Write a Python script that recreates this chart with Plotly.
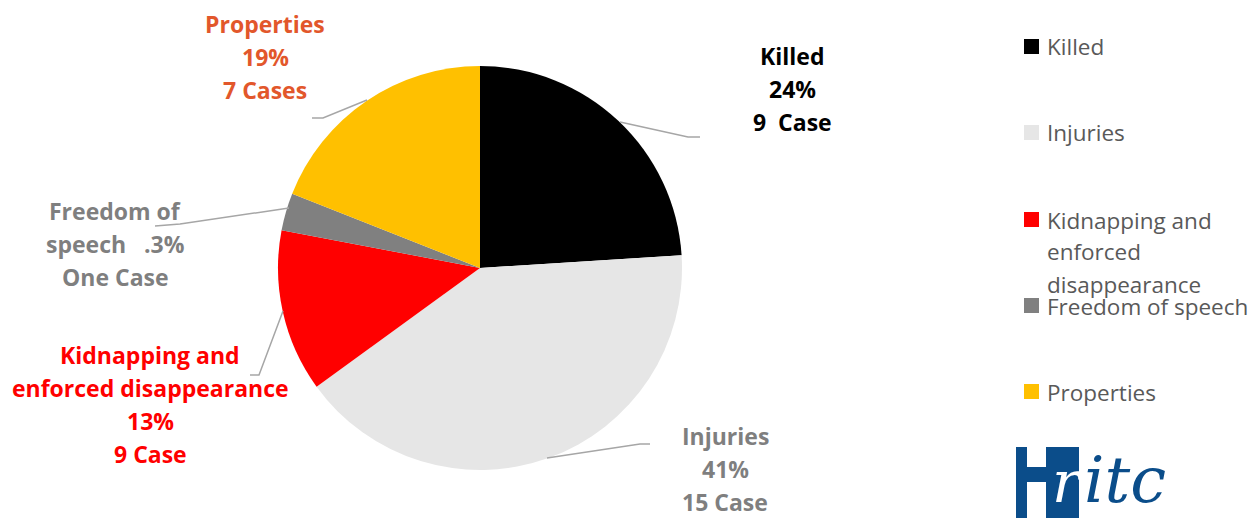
import plotly.graph_objects as go

categories = ["Killed", "Injuries", "Kidnapping and enforced disappearance", "Freedom of speech", "Properties"]
percent_values = [24, 41, 13, 3, 19]
slice_colors = ["#000000", "#E6E6E6", "#FF0000", "#808080", "#FFC000"]
label_lines = [
    ["Killed", "24%", "9  Case"],
    ["Injuries", "41%", "15 Case"],
    ["Kidnapping and", "enforced disappearance", "13%", "9 Case"],
    ["Freedom of", "speech   .3%", "One Case"],
    ["Properties", "19%", "7 Cases"],
]
label_colors = ["#000000", "#7F7F7F", "#FF0000", "#7F7F7F", "#E2572B"]
legend_lines = [["Killed"], ["Injuries"], ["Kidnapping and", "enforced", "disappearance"],
                ["Freedom of speech"], ["Properties"]]

W, H = 1256, 518
OFF = 8  # page body margin
def px(x): return (x - OFF) / W
def py(y): return 1 - (y - OFF) / H

# layout positions (pixels, in window coordinates)
label_pos = [(792, 56), (725, 436), (150, 355), (115, 211), (265, 24)]
label_step = 33
leaders = [
    [(620, 122), (688, 137), (700, 137)],
    [(547, 458), (640, 444), (650, 444)],
    [(283, 311), (259, 375), (250, 375)],
    [(289, 208), (180, 224), (155, 226)],
    [(367, 100), (323, 118), (312, 118)],
]
legend_y = [47, 133, 220, 306, 392]

fig = go.Figure()
fig.add_trace(go.Pie(
    labels=categories, values=percent_values, sort=False, direction="clockwise",
    rotation=0, marker=dict(colors=slice_colors, line=dict(color="white", width=0)),
    textinfo="none", hoverinfo="label+percent", showlegend=False,
    domain=dict(x=[px(278), px(682)], y=[py(470), py(66)]),
))

annotations = []
shapes = []
label_font = "'Open Sans', Lato, sans-serif"
for lines, (cx, cy), col in zip(label_lines, label_pos, label_colors):
    for i, t in enumerate(lines):
        annotations.append(dict(x=px(cx), y=py(cy + i * label_step), xref="paper", yref="paper",
                                text="<b>%s</b>" % t, showarrow=False, xanchor="center", yanchor="middle",
                                font=dict(family=label_font, size=23, color=col)))
for pts in leaders:
    path = "M %f %f" % (px(pts[0][0]), py(pts[0][1]))
    for (x, y) in pts[1:]:
        path += " L %f %f" % (px(x), py(y))
    shapes.append(dict(type="path", path=path, xref="paper", yref="paper",
                       line=dict(color="#A6A6A6", width=1.5)))

# manual legend
for lines, col, ly in zip(legend_lines, slice_colors, legend_y):
    shapes.append(dict(type="rect", xref="paper", yref="paper",
                       x0=px(1024), x1=px(1039), y0=py(ly + 7), y1=py(ly - 8),
                       fillcolor=col, line=dict(width=0)))
    for i, t in enumerate(lines):
        annotations.append(dict(x=px(1045), y=py(ly + i * 32), xref="paper", yref="paper",
                                text=t, showarrow=False, xanchor="left", yanchor="middle",
                                font=dict(family=label_font, size=22.5, color="#595959")))

# logo
blue = "#0B4D8A"
for (x0, y0, x1, y1) in [(1016, 447, 1027, 526), (1016, 467, 1050, 482), (1046, 447, 1079, 526)]:
    shapes.append(dict(type="rect", xref="paper", yref="paper", x0=px(x0), x1=px(x1),
                       y0=py(y1), y1=py(y0), fillcolor=blue, line=dict(width=0)))
annotations.append(dict(x=px(1050), y=py(482), xref="paper", yref="paper", text="<i>r</i>",
                        showarrow=False, xanchor="left", yanchor="middle",
                        font=dict(family="DejaVu Serif", size=58, color="white")))
annotations.append(dict(x=px(1082), y=py(480), xref="paper", yref="paper", text="<i>itc</i>",
                        showarrow=False, xanchor="left", yanchor="middle",
                        font=dict(family="DejaVu Serif", size=64, color=blue)))

fig.update_layout(width=W, height=H, margin=dict(l=0, r=0, t=0, b=0),
                  paper_bgcolor="white", plot_bgcolor="white",
                  annotations=annotations, shapes=shapes, showlegend=False)
fig.write_html("out.html")
